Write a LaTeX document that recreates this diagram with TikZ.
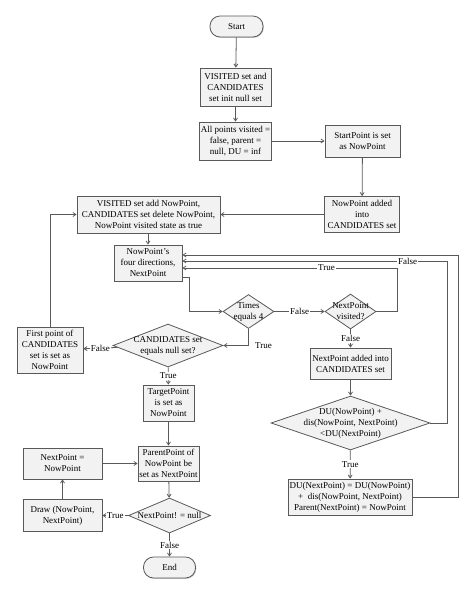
\documentclass[tikz,border=0pt]{standalone}
\usepackage{fontspec}
\setmainfont{Liberation Serif}
\usepackage{tikz}
\usetikzlibrary{shapes.geometric,arrows.meta,shadows}

\begin{document}
\begin{tikzpicture}[x=1pt, y=-1pt, >={Straight Barb[length=3pt,width=4pt]},
    every node/.style={font=\fontsize{9}{11}\selectfont, align=center},
    flow/.style={draw=black!65, line width=0.8pt},
    box/.style={draw=black!65, line width=0.8pt, fill=black!5, inner sep=1pt,
        drop shadow={shadow xshift=0.8pt, shadow yshift=-0.8pt, fill=black!35, opacity=0.6}},
    pill/.style={box, rounded corners=10pt},
    decision/.style={diamond, draw=black!65, line width=0.8pt, fill=black!5, inner sep=0pt},
    lbl/.style={fill=white, inner sep=1pt}]

    \useasboundingbox (0,0) rectangle (474,595);

    % Start and initialisation
    \node[pill, minimum width=53pt, minimum height=21pt] (start) at (236.5,26.5) {Start};
    \node[box, minimum width=71pt, minimum height=38pt] (init) at (235.5,87)
        {VISITED set and\\CANDIDATES\\set init null set};
    \node[box, minimum width=71pt, minimum height=38pt] (allpts) at (235.5,141)
        {All points visited =\\false, parent =\\null, DU = inf};
    \node[box, minimum width=75pt, minimum height=32pt] (startpt) at (362.5,141)
        {StartPoint is set\\as NowPoint};
    \node[box, minimum width=75pt, minimum height=36pt] (nowadd) at (362,214.5)
        {NowPoint added\\into\\CANDIDATES set};
    \node[box, minimum width=143pt, minimum height=37pt] (visadd) at (148.5,214.5)
        {VISITED set add NowPoint,\\CANDIDATES set delete NowPoint,\\NowPoint visited state as true};
    \node[box, minimum width=68pt, minimum height=36pt] (dirs) at (148,263)
        {NowPoint's\\four directions,\\NextPoint};

    % Decisions in the search loop
    \node[decision, minimum width=51pt, minimum height=34pt,
        label={center:Times\\equals 4}] (times) at (248.5,311.5) {};
    \node[decision, minimum width=51pt, minimum height=35pt,
        label={center:NextPoint\\visited?}] (visited) at (350.5,311.5) {};
    \node[decision, minimum width=110pt, minimum height=43pt,
        label={center:CANDIDATES set\\equals null set?}] (cand) at (168,345.5) {};
    \node[box, minimum width=66pt, minimum height=46pt] (first) at (50,350)
        {First point of\\CANDIDATES\\set is set as\\NowPoint};
    \node[box, minimum width=81pt, minimum height=31pt] (nextadd) at (350.5,363.5)
        {NextPoint added into\\CANDIDATES set};
    \node[decision, minimum width=159pt, minimum height=54pt,
        label={center:DU(NowPoint) +\\dis(NowPoint, NextPoint)\\<DU(NextPoint)}] (du) at (350.5,423) {};
    \node[box, minimum width=124pt, minimum height=36pt] (duset) at (350,497)
        {DU(NextPoint) = DU(NowPoint)\\+\ \ dis(NowPoint, NextPoint)\\Parent(NextPoint) = NowPoint};

    % Path back-tracking
    \node[box, minimum width=51pt, minimum height=36pt] (target) at (168.5,403)
        {TargetPoint\\is set as\\NowPoint};
    \node[box, minimum width=61pt, minimum height=35pt] (parent) at (168.5,463.5)
        {ParentPoint of\\NowPoint be\\set as NextPoint};
    \node[decision, minimum width=82pt, minimum height=35pt,
        label={center:NextPoint! = null}] (notnull) at (169.5,515.5) {};
    \node[box, minimum width=79pt, minimum height=32pt] (drawbox) at (62.5,515.5)
        {Draw (NowPoint,\\NextPoint)};
    \node[box, minimum width=79pt, minimum height=31pt] (nextnow) at (62.5,463.5)
        {NextPoint =\\NowPoint};
    \node[pill, minimum width=52pt, minimum height=21pt] (endn) at (169.5,567.5) {End};

    % Connectors
    \draw[flow, ->] (start) -- (init);
    \draw[flow, ->] (init) -- (allpts);
    \draw[flow, ->] (allpts) -- (startpt);
    \draw[flow, ->] (startpt) -- (nowadd);
    \draw[flow, ->] (nowadd) -- (visadd);
    \draw[flow, ->] (visadd.south -| dirs) -- (dirs);
    \draw[flow, ->] ([yshift=4pt]dirs.south east) -- ++(7,0) |- (times.west);
    \draw[flow, ->] (times) -- node[lbl] {False} (visited);
    \draw[flow, ->] (visited.east) -- ++(21,0) |- node[lbl, pos=0.665] {True} ([yshift=-5pt]dirs.east);
    \draw[flow, ->] (visited) -- node[lbl] {False} (nextadd);
    \draw[flow, ->] (nextadd) -- (du);
    \draw[flow, ->] (du.east) -- ++(17,0) |- node[lbl, pos=0.575] {False} ([yshift=2pt]dirs.east);
    \draw[flow, ->] (du) -- node[lbl] {True} (duset);
    \draw[flow, ->] (duset.east) -- ++(46,0) |- ([yshift=8pt]dirs.east);
    \draw[flow, ->] (times.south) |- node[pos=0.5, anchor=west, xshift=3pt] {True} (cand.east);
    \draw[flow, ->] (cand) -- node[lbl] {False} (first);
    \draw[flow, ->] (first.north) |- (visadd.west);
    \draw[flow, ->] (cand) -- node[lbl] {True} (target);
    \draw[flow, ->] (target) -- (parent);
    \draw[flow, ->] (parent) -- (notnull);
    \draw[flow, ->] (notnull) -- node[lbl] {True} (drawbox);
    \draw[flow, ->] (drawbox) -- (nextnow);
    \draw[flow, ->] (nextnow) -- (parent);
    \draw[flow, ->] (notnull) -- node[lbl] {False} (endn);

\end{tikzpicture}
\end{document}
